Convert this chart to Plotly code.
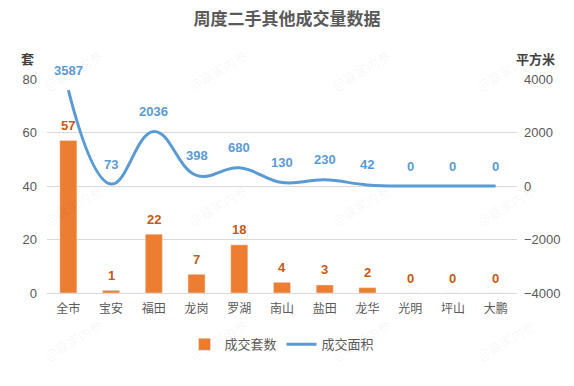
import plotly.graph_objects as go

districts = ["全市", "宝安", "福田", "龙岗", "罗湖", "南山", "盐田", "龙华", "光明", "坪山", "大鹏"]
units = [57, 1, 22, 7, 18, 4, 3, 2, 0, 0, 0]
area = [3587, 73, 2036, 398, 680, 130, 230, 42, 0, 0, 0]

left_ticks = [0, 20, 40, 60, 80]
right_ticks = [-4000, -2000, 0, 2000, 4000]

watermark_x = [0.055, 0.363, 0.668, 0.977]
watermark_y = [1.04, 0.41, -0.22]

ORANGE = "#ED7D31"
ORANGE_TXT = "#C55A11"
BLUE = "#5B9BD5"
GRID = "#D9D9D9"
TXT = "#595959"
FONT = "Liberation Sans, Noto Sans CJK SC"

fig = go.Figure()
fig.add_trace(go.Bar(
    x=districts, y=units, name="成交套数", marker_color=ORANGE, width=0.4,
    yaxis="y",
))
fig.add_trace(go.Scatter(
    x=districts, y=area, name="成交面积", mode="lines",
    line=dict(color=BLUE, width=3, shape="spline", smoothing=1.2),
    yaxis="y2",
))

annotations = []
for wx in watermark_x:
    for wy in watermark_y:
        annotations.append(dict(x=wx, y=wy, xref="paper", yref="paper", text="@赢家内参",
                                showarrow=False, textangle=-30,
                                xanchor="center", yanchor="middle",
                                font=dict(color="rgba(0,0,0,0.05)", size=13,
                                          family="Noto Sans CJK SC")))
for d, u in zip(districts, units):
    annotations.append(dict(x=d, y=u, xref="x", yref="y", text=f"<b>{u}</b>",
                            showarrow=False, yshift=15,
                            font=dict(color=ORANGE_TXT, size=13, family=FONT)))
for d, a in zip(districts, area):
    annotations.append(dict(x=d, y=a, xref="x", yref="y2", text=f"<b>{a}</b>",
                            showarrow=False, yshift=20,
                            font=dict(color=BLUE, size=13, family=FONT)))
annotations.append(dict(x=0, y=1.0, xref="paper", yref="paper", text="<b>套</b>",
                        showarrow=False, xanchor="center", yanchor="middle",
                        xshift=-20, yshift=21,
                        font=dict(color="#404040", size=13, family="Noto Sans CJK SC")))
annotations.append(dict(x=1, y=1.0, xref="paper", yref="paper", text="<b>平方米</b>",
                        showarrow=False, xanchor="center", yanchor="middle",
                        xshift=18, yshift=21,
                        font=dict(color="#404040", size=13, family="Noto Sans CJK SC")))

fig.update_layout(
    width=574, height=386,
    margin=dict(l=47, r=57, t=79, b=93),
    paper_bgcolor="white", plot_bgcolor="white",
    font=dict(family=FONT, color=TXT, size=12),
    title=dict(text="<b>周度二手其他成交量数据</b>", x=0.5, xanchor="center",
               y=0.95, yanchor="middle",
               font=dict(size=17, color="#595959", family="Noto Sans CJK SC")),
    xaxis=dict(showline=True, linecolor=GRID, linewidth=1, ticks="",
               ticklabelstandoff=5,
               tickfont=dict(size=12, color=TXT, family="Noto Sans CJK SC")),
    yaxis=dict(range=[0, 80], tickvals=left_ticks, showgrid=True, gridcolor=GRID,
               zeroline=False, showline=False, ticks="", ticklabelstandoff=9,
               tickfont=dict(size=13, color=TXT)),
    yaxis2=dict(range=[-4000, 4000], tickvals=right_ticks, overlaying="y", side="right",
                showgrid=False, zeroline=False, showline=False, ticks="", ticklabelstandoff=6,
                tickfont=dict(size=13, color=TXT)),
    legend=dict(orientation="h", x=0.5, xanchor="center", y=-0.17, yanchor="top",
                font=dict(size=13, color=TXT, family="Noto Sans CJK SC")),
    annotations=annotations,
    bargap=0.6,
)

fig.write_html("out.html")
